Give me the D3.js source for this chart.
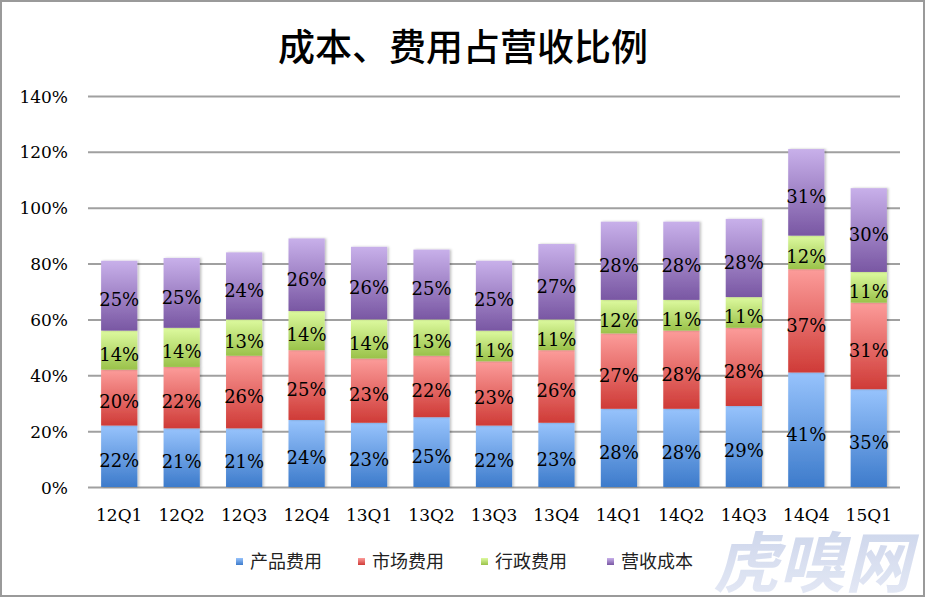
<!doctype html>
<html>
<head>
<meta charset="utf-8">
<title>成本、费用占营收比例</title>
<script src="https://d3js.org/d3.v7.min.js"></script>
<style>
  body { margin: 0; background: #fff; }
  svg { display: block; }
  .tick-label, .cat-label, .value-label {
    font-family: "DejaVu Serif", serif;
    fill: #000;
  }
  .title {
    font-family: "Noto Sans CJK SC", sans-serif;
    font-size: 37px;
    font-weight: 500;
    fill: #000;
  }
  .legend-text {
    font-family: "Noto Sans CJK SC", sans-serif;
    font-size: 18px;
    fill: #222;
  }
  .watermark {
    font-family: "Noto Sans CJK SC", sans-serif;
    font-size: 66px;
    font-style: italic;
    font-weight: bold;
  }
</style>
</head>
<body>
<div id="chart"></div>
<script>
// quarters on the x axis
const quarters = ["12Q1", "12Q2", "12Q3", "12Q4", "13Q1", "13Q2", "13Q3", "13Q4",
                  "14Q1", "14Q2", "14Q3", "14Q4", "15Q1"];

// share of revenue, in percent (bottom to top of each bar)
const productCost = [22, 21, 21, 24, 23, 25, 22, 23, 28, 28, 29, 41, 35];
const marketCost  = [20, 22, 26, 25, 23, 22, 23, 26, 27, 28, 28, 37, 31];
const adminCost   = [14, 14, 13, 14, 14, 13, 11, 11, 12, 11, 11, 12, 11];
const revenueCost = [25, 25, 24, 26, 26, 25, 25, 27, 28, 28, 28, 31, 30];

const seriesNames = ["产品费用", "市场费用", "行政费用", "营收成本"];
const yTicks = [0, 20, 40, 60, 80, 100, 120, 140];

const w = 927;
const h = 598;
const margin = { top: 96, right: 27, bottom: 111, left: 88 };

// top / bottom gradient colours per series
const colors = [
  { top: "#97c3fc", bottom: "#3d7bcb" },
  { top: "#fc9c9a", bottom: "#cf3b37" },
  { top: "#ddfa9f", bottom: "#9ac24a" },
  { top: "#c8b0ea", bottom: "#7957a3" }
];

const table = quarters.map(function (q, i) {
  return {
    quarter: q,
    s0: productCost[i],
    s1: marketCost[i],
    s2: adminCost[i],
    s3: revenueCost[i]
  };
});

const keys = ["s0", "s1", "s2", "s3"];
const stacked = d3.stack().keys(keys)(table);

const svg = d3.select("#chart")
  .append("svg")
  .attr("width", w)
  .attr("height", h);

const defs = svg.append("defs");

colors.forEach(function (c, i) {
  const g = defs.append("linearGradient")
    .attr("id", "grad" + i)
    .attr("x1", 0).attr("y1", 0)
    .attr("x2", 0).attr("y2", 1);
  g.append("stop").attr("offset", "0%").attr("stop-color", c.top);
  g.append("stop").attr("offset", "100%").attr("stop-color", c.bottom);
});

const shadow = defs.append("filter")
  .attr("id", "shadow")
  .attr("x", "-20%").attr("y", "-5%")
  .attr("width", "140%").attr("height", "110%");
shadow.append("feDropShadow")
  .attr("dx", 1.5).attr("dy", 0)
  .attr("stdDeviation", 1.2)
  .attr("flood-color", "#000")
  .attr("flood-opacity", 0.25);

const wm = defs.append("linearGradient")
  .attr("id", "wmgrad")
  .attr("x1", 0).attr("y1", 0)
  .attr("x2", 0).attr("y2", 1);
wm.append("stop").attr("offset", "0%").attr("stop-color", "#c3cde8");
wm.append("stop").attr("offset", "100%").attr("stop-color", "#e4e9f5");

// frame
svg.append("rect")
  .attr("x", 1).attr("y", 1)
  .attr("width", w - 4).attr("height", h - 3)
  .attr("fill", "#fff")
  .attr("stroke", "#9a9a9a")
  .attr("stroke-width", 2);

svg.append("text")
  .attr("class", "title")
  .attr("x", 463)
  .attr("y", 61)
  .attr("text-anchor", "middle")
  .text("成本、费用占营收比例");

const xScale = d3.scaleBand()
  .domain(quarters)
  .range([margin.left, w - margin.right])
  .paddingInner(0.42)
  .paddingOuter(0.21);

const yScale = d3.scaleLinear()
  .domain([0, 140])
  .range([h - margin.bottom, margin.top]);

// watermark (drawn behind the chart parts)
svg.append("text")
  .attr("class", "watermark")
  .attr("x", 812)
  .attr("y", 587)
  .attr("text-anchor", "middle")
  .attr("fill", "url(#wmgrad)")
  .attr("opacity", 0.9)
  .text("虎嗅网");

// gridlines + y labels
const yAxis = d3.axisLeft(yScale)
  .tickValues(yTicks)
  .tickSize(-(w - margin.left - margin.right))
  .tickPadding(20)
  .tickFormat(function (d) { return d + "%"; });

const gy = svg.append("g")
  .attr("transform", "translate(" + margin.left + ",0)")
  .call(yAxis);
gy.select(".domain").remove();
gy.selectAll(".tick line")
  .attr("stroke", "#a0a0a0")
  .attr("stroke-width", 2);
gy.selectAll(".tick text")
  .attr("class", "tick-label")
  .attr("x", -20)
  .attr("dy", "0.36em")
  .style("font-size", "17px");

// category labels
const xAxis = d3.axisBottom(xScale)
  .tickSize(0)
  .tickPadding(22);

const gx = svg.append("g")
  .attr("transform", "translate(0," + (h - margin.bottom) + ")")
  .call(xAxis);
gx.select(".domain").remove();
gx.selectAll(".tick text")
  .attr("class", "cat-label")
  .style("font-size", "17px");

// bars
const layers = svg.append("g")
  .selectAll("g")
  .data(stacked)
  .enter()
  .append("g")
  .attr("fill", function (d, i) { return "url(#grad" + i + ")"; });

layers.selectAll("rect")
  .data(function (d) { return d; })
  .enter()
  .append("rect")
  .attr("x", function (d) { return xScale(d.data.quarter); })
  .attr("y", function (d) { return yScale(d[1]); })
  .attr("width", xScale.bandwidth())
  .attr("height", function (d) { return yScale(d[0]) - yScale(d[1]); })
  .attr("filter", "url(#shadow)");

// value labels
const labels = svg.append("g");
stacked.forEach(function (layer) {
  labels.selectAll(null)
    .data(layer)
    .enter()
    .append("text")
    .attr("class", "value-label")
    .attr("x", function (d) { return xScale(d.data.quarter) + xScale.bandwidth() / 2; })
    .attr("y", function (d) { return (yScale(d[0]) + yScale(d[1])) / 2; })
    .attr("dy", "0.6em")
    .attr("text-anchor", "middle")
    .style("font-size", "18px")
    .text(function (d) { return (d[1] - d[0]) + "%"; });
});

// legend
const legendX = [236, 358, 481, 607];
const legend = svg.append("g");
seriesNames.forEach(function (name, i) {
  const item = legend.append("g")
    .attr("transform", "translate(" + legendX[i] + ",562)");
  item.append("rect")
    .attr("x", 0).attr("y", -4)
    .attr("width", 7).attr("height", 7)
    .attr("fill", "url(#grad" + i + ")");
  item.append("text")
    .attr("class", "legend-text")
    .attr("x", 14)
    .attr("dy", "0.36em")
    .text(name);
});
</script>
</body>
</html>
